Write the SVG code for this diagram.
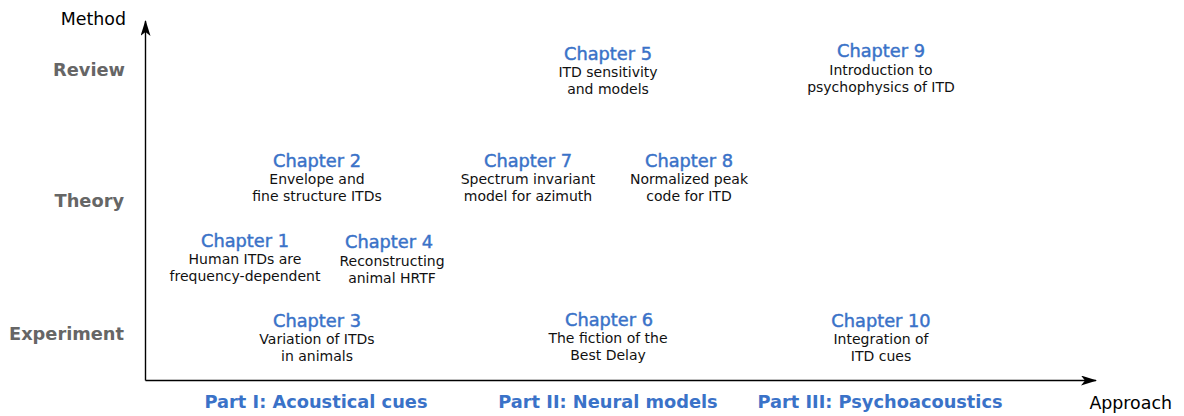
<svg xmlns="http://www.w3.org/2000/svg" width="1184" height="416" viewBox="0 0 1184 416">
  <style>
    text { font-family: "DejaVu Sans", "Liberation Sans", sans-serif; }
    .axis { fill: none; stroke: #000; stroke-width: 1.4; }
    .axlabel { font-size: 17.4px; fill: #000; }
    .level { font-size: 17.8px; font-weight: bold; fill: #666; text-anchor: end; }
    .title { font-size: 17.8px; fill: #3a72c8; stroke: #3a72c8; stroke-width: 0.45px; text-anchor: middle; }
    .desc { font-size: 14px; fill: #111; text-anchor: middle; }
    .part { font-size: 17.8px; font-weight: bold; fill: #3a72c8; text-anchor: middle; }
  </style>
  <defs>
    <marker id="arrow" viewBox="0 0 16 10" refX="15" refY="5" markerWidth="16" markerHeight="10" markerUnits="userSpaceOnUse" orient="auto">
      <path d="M0,0 L16,5 L0,10 L4,5 Z" fill="#000"/>
    </marker>
  </defs>

  <rect width="1184" height="416" fill="#fff"/>

  <!-- axes -->
  <g id="connectors">
    <path class="axis" d="M145.5,380.5 V21" marker-end="url(#arrow)"/>
    <path class="axis" d="M145.5,380.5 H1096" marker-end="url(#arrow)"/>
  </g>

  <!-- axis names -->
  <g id="axis-labels">
    <text class="axlabel" x="126" y="25" text-anchor="end">Method</text>
    <text class="axlabel" x="1172" y="409" text-anchor="end">Approach</text>
  </g>

  <!-- method levels -->
  <g id="levels">
    <text class="level" x="125" y="76">Review</text>
    <text class="level" x="124" y="207">Theory</text>
    <text class="level" x="124" y="340">Experiment</text>
  </g>

  <!-- chapters -->
  <g id="chapter1">
    <text class="title" x="245" y="247">Chapter 1</text>
    <text class="desc" x="245" y="264">Human ITDs are</text>
    <text class="desc" x="245" y="281">frequency-dependent</text>
  </g>
  <g id="chapter2">
    <text class="title" x="317" y="167">Chapter 2</text>
    <text class="desc" x="317" y="184">Envelope and</text>
    <text class="desc" x="317" y="201">fine structure ITDs</text>
  </g>
  <g id="chapter3">
    <text class="title" x="317" y="327">Chapter 3</text>
    <text class="desc" x="317" y="344">Variation of ITDs</text>
    <text class="desc" x="317" y="361">in animals</text>
  </g>
  <g id="chapter4">
    <text class="title" x="389" y="248">Chapter 4</text>
    <text class="desc" x="392" y="266">Reconstructing</text>
    <text class="desc" x="392" y="283">animal HRTF</text>
  </g>
  <g id="chapter5">
    <text class="title" x="608" y="60">Chapter 5</text>
    <text class="desc" x="608" y="77">ITD sensitivity</text>
    <text class="desc" x="608" y="94">and models</text>
  </g>
  <g id="chapter6">
    <text class="title" x="609" y="326">Chapter 6</text>
    <text class="desc" x="608" y="343">The fiction of the</text>
    <text class="desc" x="608" y="360">Best Delay</text>
  </g>
  <g id="chapter7">
    <text class="title" x="528" y="167">Chapter 7</text>
    <text class="desc" x="528" y="184">Spectrum invariant</text>
    <text class="desc" x="528" y="201">model for azimuth</text>
  </g>
  <g id="chapter8">
    <text class="title" x="689" y="167">Chapter 8</text>
    <text class="desc" x="689" y="184">Normalized peak</text>
    <text class="desc" x="689" y="201">code for ITD</text>
  </g>
  <g id="chapter9">
    <text class="title" x="881" y="57">Chapter 9</text>
    <text class="desc" x="881" y="75">Introduction to</text>
    <text class="desc" x="881" y="92">psychophysics of ITD</text>
  </g>
  <g id="chapter10">
    <text class="title" x="881" y="327">Chapter 10</text>
    <text class="desc" x="881" y="344">Integration of</text>
    <text class="desc" x="881" y="361">ITD cues</text>
  </g>

  <!-- approach parts -->
  <g id="parts">
    <text class="part" x="316" y="408">Part I: Acoustical cues</text>
    <text class="part" x="608" y="408">Part II: Neural models</text>
    <text class="part" x="880" y="408">Part III: Psychoacoustics</text>
  </g>
</svg>
